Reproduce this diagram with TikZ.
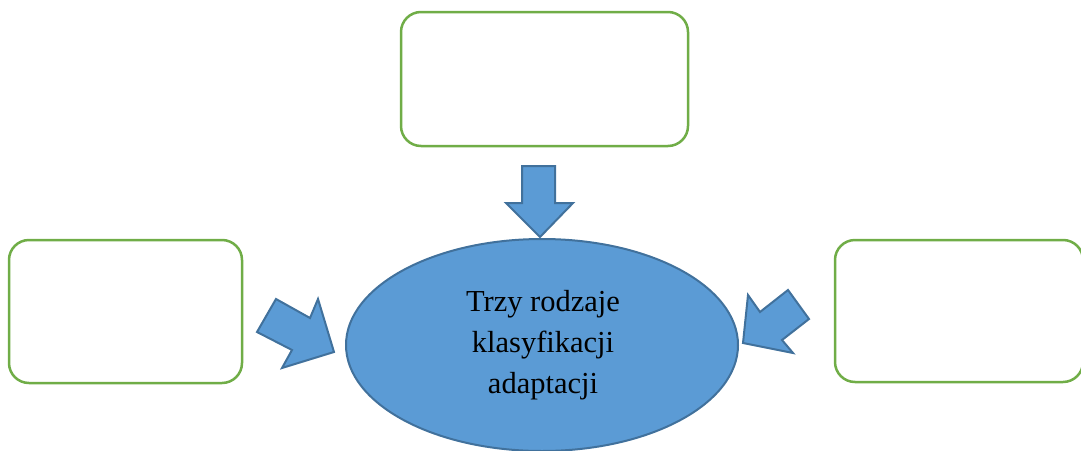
\documentclass[tikz,border=0pt]{standalone}
\usepackage{fontspec}
\setmainfont{Liberation Serif}
\usetikzlibrary{shapes.geometric}
\definecolor{boxgreen}{HTML}{70AD47}
\definecolor{blfill}{HTML}{5B9BD5}
\definecolor{bldraw}{HTML}{41719C}
\tikzset{
  emptybox/.style={draw=boxgreen, line width=2.5pt, fill=white, rounded corners=20pt, minimum width=#1, inner sep=0pt},
  blockarrow/.style={draw=bldraw, fill=blfill, line width=2pt, line join=miter},
}
\begin{document}
\begin{tikzpicture}[x=1pt,y=-1pt]
\useasboundingbox (0,0) rectangle (1081,450);
\node[emptybox=287pt, minimum height=134pt] (top) at (544.5,79) {};
\node[emptybox=233pt, minimum height=143pt] (left) at (125.5,311.5) {};
\node[emptybox=248pt, minimum height=142pt] (right) at (959,311) {};
\node[ellipse, draw=bldraw, fill=blfill, line width=2pt, minimum width=392pt, minimum height=212pt, inner sep=0pt] (center) at (542,345) {};
\node[align=center, font=\fontsize{30.5}{41}\selectfont, anchor=base, inner sep=0pt] (label) at (543,393) {Trzy rodzaje\\klasyfikacji\\adaptacji};
% down arrow
\draw[blockarrow] (522,166) -- (555,166) -- (555,203) -- (573,203) -- (540,237) -- (506,203) -- (522,203) -- cycle;
% left arrow
\draw[blockarrow] (257,332) -- (276,299) -- (310,318) -- (318,299) -- (334,352) -- (282,368) -- (292,350) -- cycle;
% right arrow
\draw[blockarrow] (748,295) -- (760,312) -- (788,290) -- (809,319) -- (782,340) -- (793,353) -- (743,343) -- cycle;
\end{tikzpicture}
\end{document}
